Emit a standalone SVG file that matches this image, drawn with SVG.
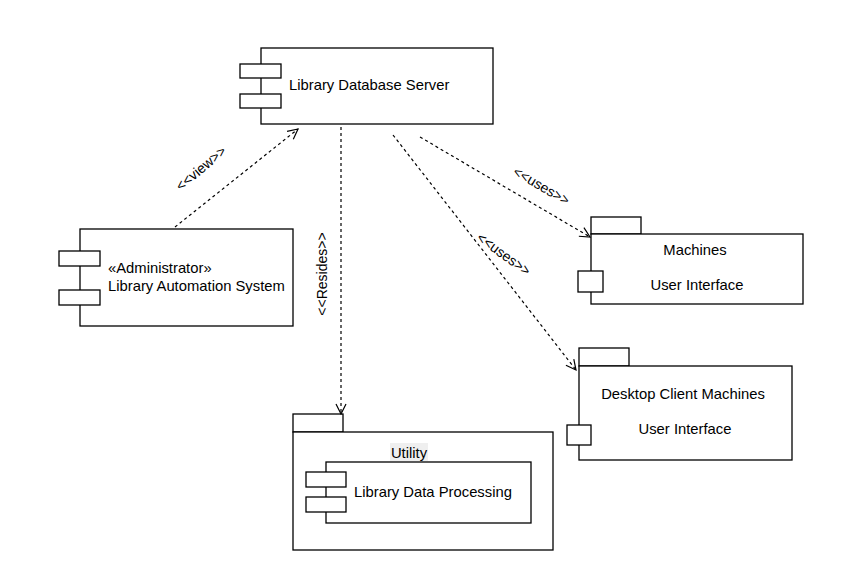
<svg xmlns="http://www.w3.org/2000/svg" width="849" height="562" viewBox="0 0 849 562">
<defs>
<style>
.box{fill:#fff;stroke:#000;stroke-width:1.3}
.t{font-family:"Liberation Sans",Arial,sans-serif;font-size:14.8px;fill:#000}
.lbl{font-family:"Liberation Sans",Arial,sans-serif;font-size:14px;fill:#000}
.dep{fill:none;stroke:#000;stroke-width:1.2;stroke-dasharray:3 3;marker-end:url(#open)}
</style>
<marker id="open" viewBox="0 0 12 12" refX="11" refY="6" markerWidth="12" markerHeight="12" markerUnits="userSpaceOnUse" orient="auto">
<path d="M1,1 L11,6 L1,11" fill="none" stroke="#000" stroke-width="1.2"/>
</marker>
</defs>
<rect width="849" height="562" fill="#fff"/>

<g id="library-database-server">
<rect class="box" x="261" y="48" width="232" height="76"/>
<rect class="box" x="240" y="64" width="41" height="14"/>
<rect class="box" x="240" y="94" width="41" height="14"/>
<text class="t" x="289" y="90">Library Database Server</text>
</g>

<g id="library-automation-system">
<rect class="box" x="80" y="229" width="213" height="97"/>
<rect class="box" x="59" y="251" width="41" height="15"/>
<rect class="box" x="59" y="290" width="41" height="15"/>
<text class="t" x="108" y="273">«Administrator»</text>
<text class="t" x="108" y="291">Library Automation System</text>
</g>

<g id="machines">
<rect class="box" x="591" y="217" width="50" height="17"/>
<rect class="box" x="591" y="234" width="212" height="70"/>
<rect class="box" x="578" y="271" width="25" height="21"/>
<text class="t" x="695" y="255" text-anchor="middle">Machines</text>
<text class="t" x="697" y="290" text-anchor="middle">User Interface</text>
</g>

<g id="desktop-client-machines">
<rect class="box" x="579" y="348" width="50" height="18"/>
<rect class="box" x="579" y="366" width="213" height="94"/>
<rect class="box" x="567" y="425" width="24" height="20"/>
<text class="t" x="683" y="399" text-anchor="middle">Desktop Client Machines</text>
<text class="t" x="685" y="434" text-anchor="middle">User Interface</text>
</g>

<g id="utility">
<rect class="box" x="293" y="414" width="50" height="18"/>
<rect class="box" x="293" y="432" width="260" height="118"/>
<rect x="390" y="443" width="38" height="18" fill="#efefef"/>
<text class="t" x="409" y="458" text-anchor="middle">Utility</text>
</g>

<g id="library-data-processing">
<rect class="box" x="326" y="462" width="205" height="61"/>
<rect class="box" x="306" y="472" width="40" height="15"/>
<rect class="box" x="306" y="497" width="40" height="15"/>
<text class="t" x="354" y="497">Library Data Processing</text>
</g>

<g id="connectors">
<line class="dep" x1="175" y1="227" x2="298" y2="129"/>
<line class="dep" x1="341" y1="127" x2="341" y2="414"/>
<line class="dep" x1="420" y1="137" x2="590" y2="237"/>
<line class="dep" x1="393" y1="135" x2="576" y2="370"/>
<text class="lbl" text-anchor="middle" transform="translate(204,172) rotate(-40)">&lt;&lt;view&gt;&gt;</text>
<text class="lbl" text-anchor="middle" transform="translate(327,274) rotate(-90)">&lt;&lt;Resides&gt;&gt;</text>
<text class="lbl" text-anchor="middle" transform="translate(539,190) rotate(30)">&lt;&lt;uses&gt;&gt;</text>
<text class="lbl" text-anchor="middle" transform="translate(501,258) rotate(36)">&lt;&lt;uses&gt;&gt;</text>
</g>
</svg>
